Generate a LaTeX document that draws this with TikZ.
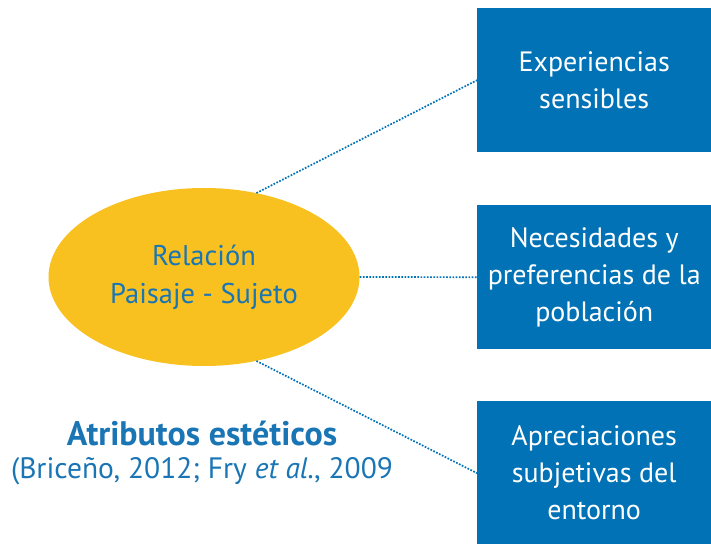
\documentclass[tikz,border=0pt]{standalone}
\usepackage{fontspec}
\setmainfont{PT Sans}
\usetikzlibrary{shapes.geometric}
\definecolor{boxblue}{RGB}{0,114,181}
\definecolor{txtblue}{RGB}{26,117,181}
\definecolor{ellyel}{RGB}{249,193,32}
\begin{document}
\begin{tikzpicture}[x=1pt,y=1pt,
  bluebox/.style={fill=boxblue,text=white,minimum width=234pt,minimum height=144pt,inner sep=0pt,align=center,
    font=\fontsize{28}{37}\selectfont,anchor=north west},
  conn/.style={draw=boxblue,line width=1.7pt,dash pattern=on 1.7pt off 1.5pt}]
\useasboundingbox (0,0) rectangle (711,543);
\node[bluebox] (b1) at (477,535) {Experiencias\\sensibles};
\node[bluebox] (b2) at (477,338) {Necesidades y\\preferencias de la\\población};
\node[bluebox] (b3) at (477,142) {Apreciaciones\\subjetivas del\\entorno};
\node[ellipse,fill=ellyel,minimum width=311pt,minimum height=178pt,inner sep=0pt,text=txtblue,align=center,
  font=\fontsize{28.5}{38}\selectfont] (e) at (204,266) {Relación\\Paisaje - Sujeto};
\draw[conn] (e.58) -- (b1.west);
\draw[conn] (e.east) -- (b2.west);
\draw[conn] (e.-58) -- (b3.west);
\node[text=txtblue,font=\fontsize{34}{40}\bfseries\selectfont] (t1) at (202,110) {Atributos estéticos};
\node[text=txtblue,font=\fontsize{29.5}{34}\selectfont] (t2) at (202,72) {(Briceño, 2012; Fry \textit{et al.}, 2009};
\end{tikzpicture}
\end{document}
